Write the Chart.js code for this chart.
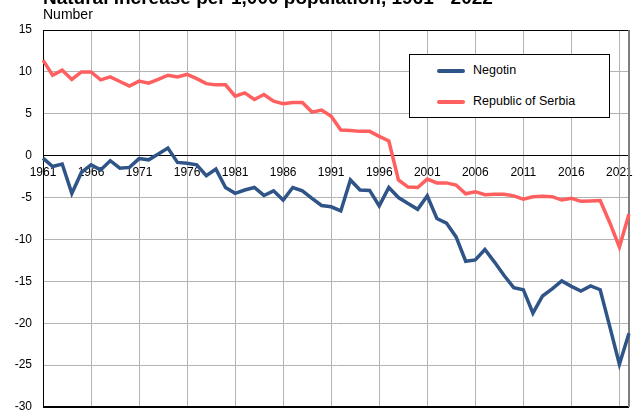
<!DOCTYPE html>
<html lang="en">
<head>
    <meta charset="UTF-8">
    <title>Natural increase per 1,000 population, 1961 - 2022</title>
    <script src="https://cdn.jsdelivr.net/npm/chart.js"></script>
    <style>
        body {
            margin: 0;
            font-family: "Liberation Sans", Arial, sans-serif;
            background: #fff;
        }
        #wrap {
            position: relative;
            width: 639px;
            height: 412px;
            overflow: hidden;
        }
        #title {
            position: absolute;
            left: 43px;
            top: -12px;
            font-size: 19px;
            line-height: 19px;
            font-weight: bold;
            white-space: nowrap;
        }
        #unit {
            position: absolute;
            left: 43px;
            top: 7px;
            font-size: 14px;
            line-height: 14px;
        }
        #legend {
            position: absolute;
            left: 409px;
            top: 54px;
            width: 199px;
            height: 62px;
            border: 1px solid #000;
            background: #fff;
            font-size: 12.5px;
        }
        .item {
            position: absolute;
            left: 27px;
            white-space: nowrap;
        }
        .swatch {
            display: inline-block;
            width: 28px;
            height: 4px;
            border-radius: 2px;
            vertical-align: middle;
            margin-right: 8px;
        }
    </style>
</head>
<body>
    <div id="wrap">
        <canvas id="myChart" width="639" height="412"></canvas>
        <div id="title">Natural increase per 1,000 population, 1961 - 2022</div>
        <div id="unit">Number</div>
        <div id="legend">
            <div class="item" style="top: 8px;"><span class="swatch" style="background:#2f5487"></span>Negotin</div>
            <div class="item" style="top: 39px;"><span class="swatch" style="background:#ff5f5f"></span>Republic of Serbia</div>
        </div>
    </div>

    <script>
        const years = [
            1961, 1962, 1963, 1964, 1965, 1966, 1967, 1968, 1969, 1970,
            1971, 1972, 1973, 1974, 1975, 1976, 1977, 1978, 1979, 1980,
            1981, 1982, 1983, 1984, 1985, 1986, 1987, 1988, 1989, 1990,
            1991, 1992, 1993, 1994, 1995, 1996, 1997, 1998, 1999, 2000,
            2001, 2002, 2003, 2004, 2005, 2006, 2007, 2008, 2009, 2010,
            2011, 2012, 2013, 2014, 2015, 2016, 2017, 2018, 2019, 2020,
            2021, 2022
        ];

        const negotin = [
            -0.3, -1.3, -1.0, -4.5, -2.0, -1.1, -1.7, -0.6, -1.5, -1.4,
            -0.35, -0.5, 0.2, 0.9, -0.8, -0.9, -1.1, -2.4, -1.6, -3.8,
            -4.5, -4.1, -3.8, -4.75, -4.2, -5.3, -3.8, -4.2, -5.1, -5.95,
            -6.1, -6.6, -2.9, -4.1, -4.15, -6.0, -3.8, -5.0, -5.7, -6.4,
            -4.8, -7.5, -8.05, -9.7, -12.6, -12.45, -11.2, -12.7, -14.3, -15.75,
            -16.0, -18.8, -16.75, -15.9, -14.95, -15.6, -16.15, -15.55, -16.0, -20.4,
            -24.9, -21.2
        ];

        const serbia = [
            11.4, 9.6, 10.2, 9.1, 10.0, 10.0, 9.05, 9.4, 8.85, 8.3,
            8.9, 8.65, 9.1, 9.6, 9.4, 9.7, 9.2, 8.6, 8.45, 8.45,
            7.1, 7.5, 6.7, 7.3, 6.5, 6.2, 6.35, 6.35, 5.2, 5.45,
            4.7, 3.05, 3.0, 2.9, 2.9, 2.3, 1.75, -2.9, -3.75, -3.8,
            -2.8, -3.25, -3.25, -3.5, -4.55, -4.3, -4.65, -4.6, -4.6, -4.8,
            -5.2, -4.9, -4.85, -4.9, -5.3, -5.1, -5.45, -5.4, -5.35, -8.0,
            -10.9, -6.95
        ];

        const yMin = -30;
        const yMax = 15;
        const yStep = 5;

        const fontFamily = '"Liberation Sans", Arial, sans-serif';

        // frame around the plot area
        const framePlugin = {
            id: 'frame',
            beforeDatasetsDraw(chart) {
                const { ctx, chartArea: a } = chart;
                ctx.save();
                ctx.strokeStyle = '#000';
                ctx.lineWidth = 1;
                ctx.beginPath();
                ctx.moveTo(a.left, a.top + 0.5);
                ctx.lineTo(a.right, a.top + 0.5);
                ctx.stroke();
                ctx.lineWidth = 2;
                ctx.beginPath();
                ctx.moveTo(a.left, a.bottom);
                ctx.lineTo(a.right, a.bottom);
                ctx.stroke();
                ctx.strokeStyle = '#7f7f7f';
                ctx.beginPath();
                ctx.moveTo(a.right, a.top);
                ctx.lineTo(a.right, a.bottom);
                ctx.stroke();
                ctx.restore();
            }
        };

        const ctx = document.getElementById('myChart').getContext('2d');
        new Chart(ctx, {
            type: 'line',
            data: {
                labels: years,
                datasets: [
                    {
                        label: 'Negotin',
                        data: negotin,
                        borderColor: '#2f5487',
                        borderWidth: 3.5,
                        pointRadius: 0,
                        tension: 0
                    },
                    {
                        label: 'Republic of Serbia',
                        data: serbia,
                        borderColor: '#ff5f5f',
                        borderWidth: 3.5,
                        pointRadius: 0,
                        tension: 0
                    }
                ]
            },
            options: {
                responsive: false,
                animation: false,
                layout: {
                    padding: { top: 30, right: 10, bottom: 5, left: 0 }
                },
                plugins: {
                    legend: { display: false },
                    title: { display: false },
                    tooltip: { enabled: false }
                },
                scales: {
                    x: {
                        type: 'category',
                        offset: false,
                        position: { y: 0 },
                        afterFit: s => { s.height = 0; s.paddingBottom = 0; s.paddingTop = 0; },
                        border: { color: '#000', width: 1 },
                        grid: {
                            drawTicks: false,
                            color: c => (c.index % 5 === 0 ? '#b3b3b3' : 'rgba(0,0,0,0)'),
                            lineWidth: 1
                        },
                        ticks: {
                            autoSkip: false,
                            maxRotation: 0,
                            padding: 10,
                            color: '#000',
                            font: { family: fontFamily, size: 12 },
                            callback: function (val, i) {
                                return i % 5 === 0 ? String(years[i]) : '';
                            }
                        }
                    },
                    y: {
                        min: yMin,
                        max: yMax,
                        afterFit: s => { s.width = 43; s.paddingTop = 0; s.paddingBottom = 0; },
                        border: { color: '#000', width: 1 },
                        grid: {
                            drawTicks: false,
                            color: '#b3b3b3',
                            lineWidth: 1
                        },
                        ticks: {
                            stepSize: yStep,
                            padding: 11,
                            color: '#000',
                            font: { family: fontFamily, size: 12 }
                        }
                    }
                }
            },
            plugins: [framePlugin]
        });
    </script>
</body>
</html>
